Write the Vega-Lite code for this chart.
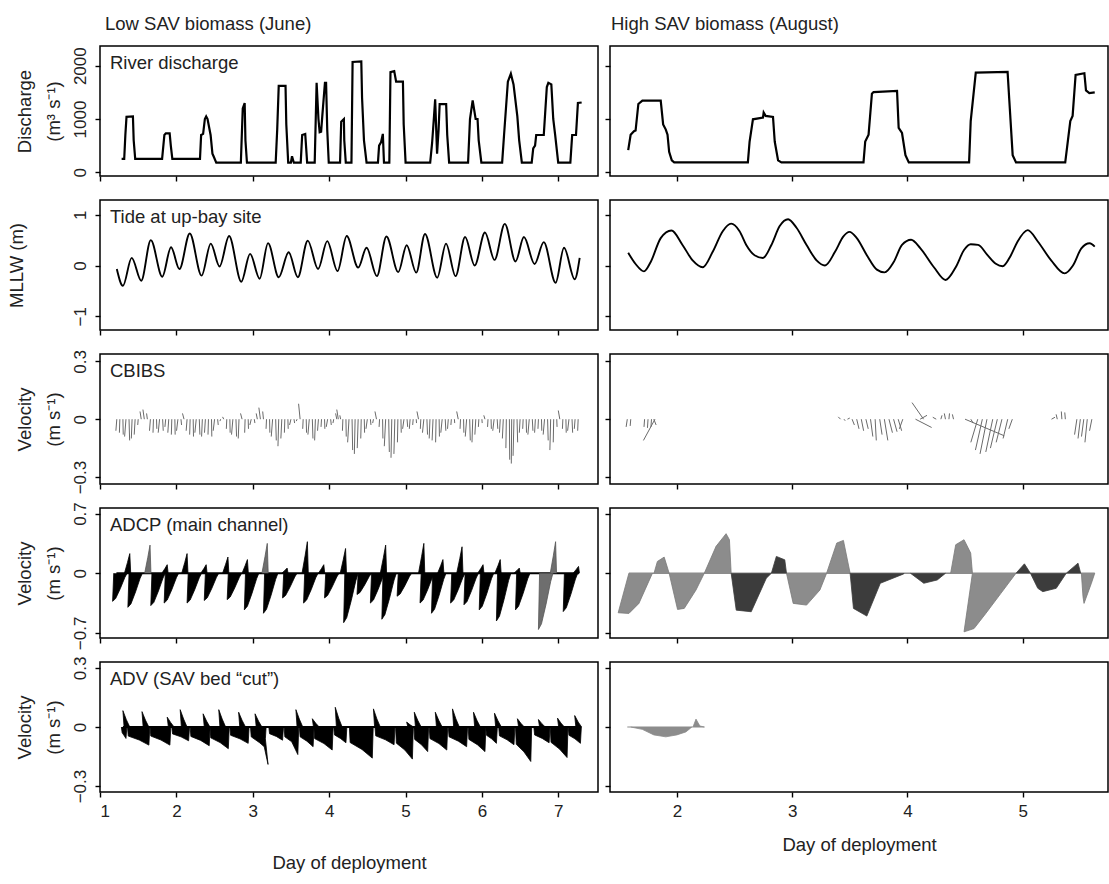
{
"$schema":"https://vega.github.io/schema/vega-lite/v6.json",
"background":"white",
"padding":{"left":6,"top":13,"right":2,"bottom":4},
"config":{
 "font":"Liberation Sans",
 "view":{"stroke":"#000","strokeWidth":1.5},
 "style":{"guide-title":{"lineHeight":29}},
 "axis":{"domain":false,"grid":false,"tickColor":"#000","tickSize":5,"tickWidth":1.4,"labelFont":"Liberation Sans","labelFontSize":17,"labelColor":"#222","titleFont":"Liberation Sans","titleFontSize":18.5,"titleFontWeight":"normal","titleColor":"#222"},
 "axisY":{"labelAngle":-90,"labelAlign":"center","labelBaseline":"bottom","labelPadding":6,"titlePadding":8,"titleLineHeight":29},
 "axisX":{"labelPadding":6},
 "title":{"font":"Liberation Sans","fontSize":18.5,"fontWeight":"normal","color":"#222","anchor":"start","frame":"group","offset":13},
 "text":{"font":"Liberation Sans","fontSize":18.5,"color":"#222","align":"left","baseline":"alphabetic"}
},
"datasets":{
"q1":[{"d":1.283,"v":250},{"d":1.317,"v":250},{"d":1.332,"v":700},{"d":1.347,"v":1040},{"d":1.431,"v":1050},{"d":1.441,"v":600},{"d":1.461,"v":250},{"d":1.813,"v":250},{"d":1.843,"v":700},{"d":1.862,"v":730},{"d":1.912,"v":730},{"d":1.927,"v":500},{"d":1.947,"v":250},{"d":2.309,"v":250},{"d":2.324,"v":700},{"d":2.35,"v":720},{"d":2.373,"v":1000},{"d":2.39,"v":1050},{"d":2.408,"v":1000},{"d":2.448,"v":700},{"d":2.472,"v":350},{"d":2.487,"v":300},{"d":2.522,"v":180},{"d":2.844,"v":180},{"d":2.869,"v":1200},{"d":2.894,"v":1300},{"d":2.904,"v":600},{"d":2.924,"v":180},{"d":3.3,"v":180},{"d":3.32,"v":800},{"d":3.34,"v":1620},{"d":3.429,"v":1620},{"d":3.439,"v":900},{"d":3.464,"v":180},{"d":3.499,"v":180},{"d":3.514,"v":300},{"d":3.538,"v":180},{"d":3.628,"v":180},{"d":3.647,"v":700},{"d":3.687,"v":720},{"d":3.712,"v":180},{"d":3.811,"v":180},{"d":3.836,"v":1680},{"d":3.86,"v":1000},{"d":3.876,"v":750},{"d":3.895,"v":760},{"d":3.91,"v":1050},{"d":3.945,"v":1680},{"d":3.96,"v":1680},{"d":3.975,"v":800},{"d":3.995,"v":180},{"d":4.143,"v":180},{"d":4.158,"v":950},{"d":4.193,"v":1000},{"d":4.198,"v":600},{"d":4.218,"v":180},{"d":4.292,"v":180},{"d":4.307,"v":2070},{"d":4.421,"v":2080},{"d":4.431,"v":1400},{"d":4.456,"v":600},{"d":4.49,"v":180},{"d":4.639,"v":180},{"d":4.654,"v":500},{"d":4.679,"v":560},{"d":4.703,"v":720},{"d":4.718,"v":180},{"d":4.788,"v":180},{"d":4.803,"v":1880},{"d":4.852,"v":1900},{"d":4.877,"v":1700},{"d":4.966,"v":1700},{"d":4.976,"v":900},{"d":5.001,"v":180},{"d":5.323,"v":180},{"d":5.348,"v":550},{"d":5.373,"v":1050},{"d":5.388,"v":1370},{"d":5.413,"v":350},{"d":5.433,"v":800},{"d":5.447,"v":1280},{"d":5.532,"v":1280},{"d":5.546,"v":700},{"d":5.571,"v":180},{"d":5.819,"v":180},{"d":5.844,"v":1000},{"d":5.879,"v":1350},{"d":5.918,"v":1000},{"d":5.943,"v":1000},{"d":5.958,"v":600},{"d":5.993,"v":180},{"d":6.265,"v":180},{"d":6.29,"v":700},{"d":6.34,"v":1700},{"d":6.379,"v":1850},{"d":6.414,"v":1650},{"d":6.464,"v":1050},{"d":6.488,"v":600},{"d":6.523,"v":180},{"d":6.652,"v":180},{"d":6.672,"v":450},{"d":6.696,"v":500},{"d":6.711,"v":700},{"d":6.81,"v":700},{"d":6.85,"v":1600},{"d":6.87,"v":1680},{"d":6.909,"v":1650},{"d":6.934,"v":1000},{"d":6.959,"v":700},{"d":6.999,"v":180},{"d":7.158,"v":180},{"d":7.182,"v":700},{"d":7.232,"v":700},{"d":7.257,"v":1300},{"d":7.306,"v":1310}],
"q2":[{"d":1.578,"v":417},{"d":1.599,"v":705},{"d":1.628,"v":769},{"d":1.642,"v":782},{"d":1.666,"v":1282},{"d":1.701,"v":1346},{"d":1.86,"v":1346},{"d":1.881,"v":897},{"d":1.904,"v":801},{"d":1.919,"v":705},{"d":1.933,"v":385},{"d":1.956,"v":224},{"d":1.977,"v":186},{"d":2.616,"v":186},{"d":2.631,"v":577},{"d":2.66,"v":994},{"d":2.747,"v":1026},{"d":2.753,"v":1122},{"d":2.77,"v":1058},{"d":2.834,"v":1038},{"d":2.849,"v":577},{"d":2.878,"v":224},{"d":2.907,"v":186},{"d":3.619,"v":186},{"d":3.634,"v":577},{"d":3.663,"v":705},{"d":3.692,"v":1474},{"d":3.706,"v":1506},{"d":3.91,"v":1526},{"d":3.924,"v":833},{"d":3.953,"v":737},{"d":3.983,"v":321},{"d":4.012,"v":186},{"d":4.535,"v":186},{"d":4.549,"v":962},{"d":4.593,"v":1872},{"d":4.869,"v":1885},{"d":4.884,"v":1346},{"d":4.913,"v":321},{"d":4.942,"v":186},{"d":5.369,"v":186},{"d":5.413,"v":962},{"d":5.433,"v":1058},{"d":5.459,"v":1827},{"d":5.535,"v":1859},{"d":5.549,"v":1538},{"d":5.578,"v":1487},{"d":5.625,"v":1500}],
"t1":[{"d":1.22,"v":-0.07},{"d":1.3,"v":-0.4},{"d":1.415,"v":0.15},{"d":1.54,"v":-0.3},{"d":1.665,"v":0.5},{"d":1.815,"v":-0.22},{"d":1.93,"v":0.36},{"d":2.04,"v":-0.07},{"d":2.175,"v":0.63},{"d":2.33,"v":-0.2},{"d":2.45,"v":0.43},{"d":2.565,"v":-0.02},{"d":2.69,"v":0.58},{"d":2.85,"v":-0.32},{"d":2.965,"v":0.23},{"d":3.09,"v":-0.26},{"d":3.2,"v":0.44},{"d":3.34,"v":-0.23},{"d":3.47,"v":0.26},{"d":3.59,"v":-0.23},{"d":3.72,"v":0.49},{"d":3.855,"v":-0.07},{"d":3.975,"v":0.48},{"d":4.11,"v":-0.11},{"d":4.23,"v":0.58},{"d":4.38,"v":-0.04},{"d":4.49,"v":0.35},{"d":4.625,"v":-0.21},{"d":4.75,"v":0.57},{"d":4.905,"v":-0.13},{"d":5.015,"v":0.4},{"d":5.14,"v":-0.14},{"d":5.255,"v":0.62},{"d":5.415,"v":-0.24},{"d":5.53,"v":0.43},{"d":5.655,"v":-0.21},{"d":5.78,"v":0.56},{"d":5.905,"v":0.0},{"d":6.04,"v":0.65},{"d":6.165,"v":0.11},{"d":6.3,"v":0.82},{"d":6.44,"v":0.08},{"d":6.55,"v":0.56},{"d":6.69,"v":0.03},{"d":6.81,"v":0.46},{"d":6.965,"v":-0.34},{"d":7.075,"v":0.35},{"d":7.215,"v":-0.27},{"d":7.28,"v":0.15}],
"t2":[{"d":1.578,"v":0.25},{"d":1.642,"v":0.03},{"d":1.715,"v":-0.115},{"d":1.773,"v":0.07},{"d":1.86,"v":0.54},{"d":1.953,"v":0.69},{"d":2.049,"v":0.405},{"d":2.137,"v":0.1},{"d":2.224,"v":-0.034},{"d":2.311,"v":0.27},{"d":2.398,"v":0.676},{"d":2.471,"v":0.824},{"d":2.544,"v":0.676},{"d":2.602,"v":0.405},{"d":2.674,"v":0.203},{"d":2.747,"v":0.149},{"d":2.82,"v":0.405},{"d":2.892,"v":0.777},{"d":2.965,"v":0.912},{"d":3.038,"v":0.743},{"d":3.125,"v":0.405},{"d":3.212,"v":0.101},{"d":3.285,"v":0.0},{"d":3.372,"v":0.27},{"d":3.445,"v":0.574},{"d":3.497,"v":0.662},{"d":3.561,"v":0.54},{"d":3.648,"v":0.203},{"d":3.735,"v":-0.081},{"d":3.802,"v":-0.135},{"d":3.881,"v":0.068},{"d":3.953,"v":0.405},{"d":4.032,"v":0.507},{"d":4.113,"v":0.338},{"d":4.23,"v":-0.034},{"d":4.331,"v":-0.284},{"d":4.419,"v":-0.034},{"d":4.491,"v":0.304},{"d":4.549,"v":0.419},{"d":4.613,"v":0.405},{"d":4.695,"v":0.203},{"d":4.767,"v":0.034},{"d":4.826,"v":-0.014},{"d":4.898,"v":0.203},{"d":4.956,"v":0.473},{"d":5.044,"v":0.696},{"d":5.131,"v":0.473},{"d":5.247,"v":0.101},{"d":5.363,"v":-0.155},{"d":5.436,"v":0.0},{"d":5.509,"v":0.338},{"d":5.581,"v":0.439},{"d":5.625,"v":0.372}],
"c1":[{"d":1.22,"e":1.208,"v":-0.06},{"d":1.26,"e":1.254,"v":-0.07},{"d":1.3,"e":1.304,"v":-0.08},{"d":1.34,"e":1.322,"v":-0.09},{"d":1.38,"e":1.388,"v":-0.11},{"d":1.42,"e":1.41,"v":-0.1},{"d":1.46,"e":1.448,"v":-0.08},{"d":1.5,"e":1.494,"v":-0.03},{"d":1.54,"e":1.524,"v":0.04},{"d":1.58,"e":1.562,"v":0.05},{"d":1.62,"e":1.61,"v":0.03},{"d":1.66,"e":1.648,"v":-0.06},{"d":1.7,"e":1.694,"v":-0.07},{"d":1.74,"e":1.744,"v":-0.05},{"d":1.78,"e":1.762,"v":-0.07},{"d":1.82,"e":1.828,"v":-0.06},{"d":1.86,"e":1.85,"v":-0.04},{"d":1.9,"e":1.888,"v":-0.07},{"d":1.94,"e":1.934,"v":-0.08},{"d":1.98,"e":1.984,"v":-0.08},{"d":2.02,"e":2.002,"v":-0.06},{"d":2.06,"e":2.068,"v":-0.03},{"d":2.1,"e":2.08,"v":0.03},{"d":2.14,"e":2.128,"v":-0.06},{"d":2.18,"e":2.174,"v":-0.08},{"d":2.22,"e":2.224,"v":-0.09},{"d":2.26,"e":2.242,"v":-0.07},{"d":2.3,"e":2.308,"v":-0.08},{"d":2.34,"e":2.33,"v":-0.09},{"d":2.38,"e":2.368,"v":-0.07},{"d":2.42,"e":2.414,"v":-0.08},{"d":2.46,"e":2.464,"v":-0.09},{"d":2.5,"e":2.482,"v":-0.06},{"d":2.54,"e":2.548,"v":-0.03},{"d":2.58,"e":2.57,"v":-0.01},{"d":2.62,"e":2.605,"v":0.012},{"d":2.66,"e":2.654,"v":-0.05},{"d":2.7,"e":2.704,"v":-0.07},{"d":2.74,"e":2.722,"v":-0.08},{"d":2.78,"e":2.788,"v":-0.09},{"d":2.82,"e":2.81,"v":-0.1},{"d":2.86,"e":2.84,"v":0.03},{"d":2.9,"e":2.894,"v":-0.07},{"d":2.94,"e":2.944,"v":-0.05},{"d":2.98,"e":2.962,"v":-0.03},{"d":3.02,"e":3.028,"v":-0.02},{"d":3.06,"e":3.045,"v":0.03},{"d":3.1,"e":3.08,"v":0.06},{"d":3.14,"e":3.13,"v":0.04},{"d":3.18,"e":3.174,"v":-0.05},{"d":3.22,"e":3.224,"v":-0.07},{"d":3.26,"e":3.242,"v":-0.09},{"d":3.3,"e":3.308,"v":-0.11},{"d":3.34,"e":3.33,"v":-0.14},{"d":3.38,"e":3.368,"v":-0.1},{"d":3.42,"e":3.414,"v":-0.07},{"d":3.46,"e":3.464,"v":-0.05},{"d":3.5,"e":3.482,"v":-0.03},{"d":3.54,"e":3.548,"v":-0.02},{"d":3.58,"e":3.57,"v":-0.01},{"d":3.62,"e":3.6,"v":0.08},{"d":3.66,"e":3.654,"v":-0.05},{"d":3.7,"e":3.704,"v":-0.07},{"d":3.74,"e":3.722,"v":-0.08},{"d":3.78,"e":3.788,"v":-0.1},{"d":3.82,"e":3.81,"v":-0.11},{"d":3.86,"e":3.848,"v":-0.06},{"d":3.9,"e":3.894,"v":-0.04},{"d":3.94,"e":3.944,"v":-0.05},{"d":3.98,"e":3.962,"v":-0.04},{"d":4.02,"e":4.028,"v":-0.03},{"d":4.06,"e":4.05,"v":-0.02},{"d":4.1,"e":4.085,"v":0.03},{"d":4.12,"e":4.1,"v":0.05},{"d":4.15,"e":4.14,"v":0.02},{"d":4.18,"e":4.174,"v":-0.06},{"d":4.22,"e":4.224,"v":-0.09},{"d":4.26,"e":4.242,"v":-0.12},{"d":4.3,"e":4.308,"v":-0.16},{"d":4.34,"e":4.33,"v":-0.18},{"d":4.38,"e":4.368,"v":-0.15},{"d":4.42,"e":4.414,"v":-0.1},{"d":4.46,"e":4.464,"v":-0.07},{"d":4.5,"e":4.482,"v":-0.05},{"d":4.54,"e":4.548,"v":-0.03},{"d":4.58,"e":4.57,"v":-0.02},{"d":4.62,"e":4.6,"v":0.04},{"d":4.66,"e":4.654,"v":-0.04},{"d":4.7,"e":4.704,"v":-0.1},{"d":4.74,"e":4.722,"v":-0.14},{"d":4.78,"e":4.788,"v":-0.17},{"d":4.82,"e":4.81,"v":-0.2},{"d":4.86,"e":4.848,"v":-0.18},{"d":4.9,"e":4.894,"v":-0.12},{"d":4.94,"e":4.944,"v":-0.07},{"d":4.98,"e":4.962,"v":-0.05},{"d":5.02,"e":5.028,"v":-0.04},{"d":5.06,"e":5.05,"v":-0.05},{"d":5.1,"e":5.094,"v":-0.03},{"d":5.14,"e":5.144,"v":-0.02},{"d":5.17,"e":5.15,"v":0.04},{"d":5.2,"e":5.194,"v":-0.05},{"d":5.24,"e":5.222,"v":-0.07},{"d":5.28,"e":5.288,"v":-0.08},{"d":5.32,"e":5.31,"v":-0.1},{"d":5.36,"e":5.348,"v":-0.11},{"d":5.4,"e":5.394,"v":-0.12},{"d":5.44,"e":5.444,"v":-0.09},{"d":5.48,"e":5.462,"v":-0.07},{"d":5.52,"e":5.528,"v":-0.06},{"d":5.56,"e":5.55,"v":-0.05},{"d":5.6,"e":5.594,"v":-0.03},{"d":5.64,"e":5.644,"v":-0.02},{"d":5.69,"e":5.67,"v":0.04},{"d":5.72,"e":5.714,"v":-0.05},{"d":5.76,"e":5.764,"v":-0.07},{"d":5.8,"e":5.782,"v":-0.09},{"d":5.84,"e":5.848,"v":-0.11},{"d":5.88,"e":5.87,"v":-0.12},{"d":5.92,"e":5.908,"v":-0.08},{"d":5.96,"e":5.954,"v":-0.04},{"d":6.0,"e":6.004,"v":-0.02},{"d":6.04,"e":6.025,"v":0.02},{"d":6.08,"e":6.074,"v":-0.04},{"d":6.12,"e":6.124,"v":-0.05},{"d":6.16,"e":6.142,"v":-0.06},{"d":6.2,"e":6.208,"v":-0.05},{"d":6.24,"e":6.23,"v":-0.07},{"d":6.28,"e":6.268,"v":-0.1},{"d":6.32,"e":6.314,"v":-0.15},{"d":6.36,"e":6.364,"v":-0.21},{"d":6.39,"e":6.385,"v":-0.23},{"d":6.42,"e":6.408,"v":-0.19},{"d":6.46,"e":6.468,"v":-0.12},{"d":6.5,"e":6.49,"v":-0.07},{"d":6.54,"e":6.534,"v":-0.05},{"d":6.58,"e":6.584,"v":-0.07},{"d":6.62,"e":6.602,"v":-0.08},{"d":6.66,"e":6.668,"v":-0.06},{"d":6.7,"e":6.69,"v":-0.07},{"d":6.74,"e":6.734,"v":-0.05},{"d":6.78,"e":6.784,"v":-0.06},{"d":6.82,"e":6.802,"v":-0.08},{"d":6.86,"e":6.868,"v":-0.11},{"d":6.9,"e":6.89,"v":-0.16},{"d":6.94,"e":6.934,"v":-0.12},{"d":6.98,"e":6.984,"v":-0.04},{"d":7.02,"e":7.0,"v":0.045},{"d":7.06,"e":7.054,"v":-0.05},{"d":7.1,"e":7.104,"v":-0.07},{"d":7.14,"e":7.122,"v":-0.06},{"d":7.18,"e":7.188,"v":-0.07},{"d":7.22,"e":7.21,"v":-0.05},{"d":7.26,"e":7.254,"v":-0.06}],
"c2":[{"d":1.57,"e":1.56,"v":-0.04},{"d":1.6,"e":1.595,"v":-0.035},{"d":1.72,"e":1.715,"v":-0.04},{"d":1.75,"e":1.745,"v":-0.045},{"d":1.78,"e":1.775,"v":-0.04},{"d":1.81,"e":1.71,"v":-0.11},{"d":1.8,"e":1.82,"v":-0.03},{"d":3.42,"e":3.4,"v":0.012},{"d":3.45,"e":3.46,"v":-0.008},{"d":3.48,"e":3.5,"v":0.006},{"d":3.52,"e":3.54,"v":-0.03},{"d":3.56,"e":3.58,"v":-0.05},{"d":3.6,"e":3.62,"v":-0.06},{"d":3.64,"e":3.66,"v":-0.05},{"d":3.68,"e":3.7,"v":-0.09},{"d":3.72,"e":3.73,"v":-0.11},{"d":3.76,"e":3.78,"v":-0.08},{"d":3.8,"e":3.83,"v":-0.11},{"d":3.84,"e":3.87,"v":-0.07},{"d":3.88,"e":3.91,"v":-0.065},{"d":3.92,"e":3.95,"v":-0.06},{"d":3.96,"e":3.93,"v":-0.05},{"d":4.14,"e":4.04,"v":0.086},{"d":4.07,"e":4.21,"v":-0.043},{"d":4.11,"e":4.17,"v":0.02},{"d":4.25,"e":4.22,"v":0.01},{"d":4.29,"e":4.3,"v":0.02},{"d":4.33,"e":4.32,"v":0.03},{"d":4.36,"e":4.365,"v":0.03},{"d":4.4,"e":4.39,"v":0.025},{"d":4.5,"e":4.84,"v":-0.086},{"d":4.55,"e":4.57,"v":-0.02},{"d":4.61,"e":4.55,"v":-0.12},{"d":4.65,"e":4.59,"v":-0.16},{"d":4.69,"e":4.63,"v":-0.18},{"d":4.74,"e":4.68,"v":-0.17},{"d":4.78,"e":4.72,"v":-0.15},{"d":4.82,"e":4.77,"v":-0.12},{"d":4.87,"e":4.83,"v":-0.1},{"d":4.91,"e":4.88,"v":-0.05},{"d":5.25,"e":5.28,"v":0.01},{"d":5.3,"e":5.29,"v":0.025},{"d":5.34,"e":5.335,"v":0.04},{"d":5.37,"e":5.365,"v":0.035},{"d":5.47,"e":5.45,"v":-0.08},{"d":5.5,"e":5.48,"v":-0.1},{"d":5.53,"e":5.51,"v":-0.09},{"d":5.56,"e":5.54,"v":-0.12},{"d":5.6,"e":5.58,"v":-0.06}],
"a1":[
{"g":1,"d":1.18,"v":0},{"g":1,"d":1.165,"v":-0.33},{"g":1,"d":1.205,"v":-0.297},{"g":1,"d":1.265,"v":-0.182},{"g":1,"d":1.325,"v":-0.05},{"g":1,"d":1.355,"v":0},
{"g":2,"d":1.38,"v":0},{"g":2,"d":1.365,"v":-0.4},{"g":2,"d":1.405,"v":-0.36},{"g":2,"d":1.465,"v":-0.22},{"g":2,"d":1.525,"v":-0.06},{"g":2,"d":1.555,"v":0},
{"g":3,"d":1.68,"v":0},{"g":3,"d":1.665,"v":-0.38},{"g":3,"d":1.705,"v":-0.342},{"g":3,"d":1.765,"v":-0.209},{"g":3,"d":1.825,"v":-0.057},{"g":3,"d":1.855,"v":0},
{"g":4,"d":1.855,"v":0},{"g":4,"d":1.84,"v":-0.35},{"g":4,"d":1.88,"v":-0.315},{"g":4,"d":1.94,"v":-0.193},{"g":4,"d":2.0,"v":-0.053},{"g":4,"d":2.03,"v":0},
{"g":5,"d":2.155,"v":0},{"g":5,"d":2.14,"v":-0.35},{"g":5,"d":2.18,"v":-0.315},{"g":5,"d":2.24,"v":-0.193},{"g":5,"d":2.3,"v":-0.053},{"g":5,"d":2.33,"v":0},
{"g":6,"d":2.38,"v":0},{"g":6,"d":2.365,"v":-0.32},{"g":6,"d":2.405,"v":-0.288},{"g":6,"d":2.465,"v":-0.176},{"g":6,"d":2.525,"v":-0.048},{"g":6,"d":2.555,"v":0},
{"g":7,"d":2.68,"v":0},{"g":7,"d":2.665,"v":-0.31},{"g":7,"d":2.705,"v":-0.279},{"g":7,"d":2.765,"v":-0.171},{"g":7,"d":2.825,"v":-0.047},{"g":7,"d":2.855,"v":0},
{"g":8,"d":2.905,"v":0},{"g":8,"d":2.89,"v":-0.43},{"g":8,"d":2.93,"v":-0.387},{"g":8,"d":2.99,"v":-0.237},{"g":8,"d":3.05,"v":-0.065},{"g":8,"d":3.08,"v":0},
{"g":9,"d":3.155,"v":0},{"g":9,"d":3.14,"v":-0.47},{"g":9,"d":3.18,"v":-0.423},{"g":9,"d":3.24,"v":-0.259},{"g":9,"d":3.3,"v":-0.071},{"g":9,"d":3.33,"v":0},
{"g":10,"d":3.405,"v":0},{"g":10,"d":3.39,"v":-0.29},{"g":10,"d":3.43,"v":-0.261},{"g":10,"d":3.49,"v":-0.16},{"g":10,"d":3.55,"v":-0.044},{"g":10,"d":3.58,"v":0},
{"g":11,"d":3.68,"v":0},{"g":11,"d":3.665,"v":-0.35},{"g":11,"d":3.705,"v":-0.315},{"g":11,"d":3.765,"v":-0.193},{"g":11,"d":3.825,"v":-0.053},{"g":11,"d":3.855,"v":0},
{"g":12,"d":3.955,"v":0},{"g":12,"d":3.94,"v":-0.29},{"g":12,"d":3.98,"v":-0.261},{"g":12,"d":4.04,"v":-0.16},{"g":12,"d":4.1,"v":-0.044},{"g":12,"d":4.13,"v":0},
{"g":13,"d":4.205,"v":0},{"g":13,"d":4.19,"v":-0.58},{"g":13,"d":4.23,"v":-0.522},{"g":13,"d":4.29,"v":-0.319},{"g":13,"d":4.35,"v":-0.087},{"g":13,"d":4.38,"v":0},
{"g":14,"d":4.38,"v":0},{"g":14,"d":4.365,"v":-0.25},{"g":14,"d":4.405,"v":-0.225},{"g":14,"d":4.465,"v":-0.138},{"g":14,"d":4.525,"v":-0.038},{"g":14,"d":4.555,"v":0},
{"g":15,"d":4.555,"v":0},{"g":15,"d":4.54,"v":-0.35},{"g":15,"d":4.58,"v":-0.315},{"g":15,"d":4.64,"v":-0.193},{"g":15,"d":4.7,"v":-0.053},{"g":15,"d":4.73,"v":0},
{"g":16,"d":4.705,"v":0},{"g":16,"d":4.69,"v":-0.54},{"g":16,"d":4.73,"v":-0.486},{"g":16,"d":4.79,"v":-0.297},{"g":16,"d":4.85,"v":-0.081},{"g":16,"d":4.88,"v":0},
{"g":17,"d":4.905,"v":0},{"g":17,"d":4.89,"v":-0.27},{"g":17,"d":4.93,"v":-0.243},{"g":17,"d":4.99,"v":-0.149},{"g":17,"d":5.05,"v":-0.041},{"g":17,"d":5.08,"v":0},
{"g":18,"d":5.205,"v":0},{"g":18,"d":5.19,"v":-0.35},{"g":18,"d":5.23,"v":-0.315},{"g":18,"d":5.29,"v":-0.193},{"g":18,"d":5.35,"v":-0.053},{"g":18,"d":5.38,"v":0},
{"g":19,"d":5.355,"v":0},{"g":19,"d":5.34,"v":-0.47},{"g":19,"d":5.38,"v":-0.423},{"g":19,"d":5.44,"v":-0.259},{"g":19,"d":5.5,"v":-0.071},{"g":19,"d":5.53,"v":0},
{"g":20,"d":5.605,"v":0},{"g":20,"d":5.59,"v":-0.35},{"g":20,"d":5.63,"v":-0.315},{"g":20,"d":5.69,"v":-0.193},{"g":20,"d":5.75,"v":-0.053},{"g":20,"d":5.78,"v":0},
{"g":21,"d":5.78,"v":0},{"g":21,"d":5.765,"v":-0.37},{"g":21,"d":5.805,"v":-0.333},{"g":21,"d":5.865,"v":-0.204},{"g":21,"d":5.925,"v":-0.056},{"g":21,"d":5.955,"v":0},
{"g":22,"d":5.98,"v":0},{"g":22,"d":5.965,"v":-0.43},{"g":22,"d":6.005,"v":-0.387},{"g":22,"d":6.065,"v":-0.237},{"g":22,"d":6.125,"v":-0.065},{"g":22,"d":6.155,"v":0},
{"g":23,"d":6.205,"v":0},{"g":23,"d":6.19,"v":-0.56},{"g":23,"d":6.23,"v":-0.504},{"g":23,"d":6.29,"v":-0.308},{"g":23,"d":6.35,"v":-0.084},{"g":23,"d":6.38,"v":0},
{"g":24,"d":6.455,"v":0},{"g":24,"d":6.44,"v":-0.43},{"g":24,"d":6.48,"v":-0.387},{"g":24,"d":6.54,"v":-0.237},{"g":24,"d":6.6,"v":-0.065},{"g":24,"d":6.63,"v":0},
{"g":26,"d":7.08,"v":0},{"g":26,"d":7.065,"v":-0.45},{"g":26,"d":7.105,"v":-0.405},{"g":26,"d":7.165,"v":-0.248},{"g":26,"d":7.225,"v":-0.068},{"g":26,"d":7.255,"v":0},
{"g":31,"d":1.32,"v":0},{"g":31,"d":1.36,"v":0.127},{"g":31,"d":1.39,"v":0.23},{"g":31,"d":1.402,"v":0},
{"g":33,"d":1.81,"v":0},{"g":33,"d":1.85,"v":0.055},{"g":33,"d":1.88,"v":0.1},{"g":33,"d":1.892,"v":0},
{"g":34,"d":2.07,"v":0},{"g":34,"d":2.11,"v":0.127},{"g":34,"d":2.14,"v":0.23},{"g":34,"d":2.152,"v":0},
{"g":35,"d":2.32,"v":0},{"g":35,"d":2.36,"v":0.055},{"g":35,"d":2.39,"v":0.1},{"g":35,"d":2.402,"v":0},
{"g":36,"d":2.605,"v":0},{"g":36,"d":2.645,"v":0.105},{"g":36,"d":2.675,"v":0.19},{"g":36,"d":2.687,"v":0},
{"g":37,"d":2.86,"v":0},{"g":37,"d":2.9,"v":0.088},{"g":37,"d":2.93,"v":0.16},{"g":37,"d":2.942,"v":0},
{"g":39,"d":3.38,"v":0},{"g":39,"d":3.42,"v":0.033},{"g":39,"d":3.45,"v":0.06},{"g":39,"d":3.462,"v":0},
{"g":40,"d":3.645,"v":0},{"g":40,"d":3.685,"v":0.204},{"g":40,"d":3.715,"v":0.37},{"g":40,"d":3.727,"v":0},
{"g":41,"d":3.86,"v":0},{"g":41,"d":3.9,"v":0.055},{"g":41,"d":3.93,"v":0.1},{"g":41,"d":3.942,"v":0},
{"g":42,"d":4.145,"v":0},{"g":42,"d":4.185,"v":0.16},{"g":42,"d":4.215,"v":0.29},{"g":42,"d":4.227,"v":0},
{"g":43,"d":4.67,"v":0},{"g":43,"d":4.71,"v":0.182},{"g":43,"d":4.74,"v":0.33},{"g":43,"d":4.752,"v":0},
{"g":44,"d":5.17,"v":0},{"g":44,"d":5.21,"v":0.193},{"g":44,"d":5.24,"v":0.35},{"g":44,"d":5.252,"v":0},
{"g":45,"d":5.42,"v":0},{"g":45,"d":5.46,"v":0.088},{"g":45,"d":5.49,"v":0.16},{"g":45,"d":5.502,"v":0},
{"g":46,"d":5.67,"v":0},{"g":46,"d":5.71,"v":0.171},{"g":46,"d":5.74,"v":0.31},{"g":46,"d":5.752,"v":0},
{"g":47,"d":5.945,"v":0},{"g":47,"d":5.985,"v":0.055},{"g":47,"d":6.015,"v":0.1},{"g":47,"d":6.027,"v":0},
{"g":48,"d":6.17,"v":0},{"g":48,"d":6.21,"v":0.088},{"g":48,"d":6.24,"v":0.16},{"g":48,"d":6.252,"v":0},
{"g":49,"d":6.42,"v":0},{"g":49,"d":6.46,"v":0.033},{"g":49,"d":6.49,"v":0.06},{"g":49,"d":6.502,"v":0},
{"g":51,"d":7.195,"v":0},{"g":51,"d":7.235,"v":0.044},{"g":51,"d":7.265,"v":0.08},{"g":51,"d":7.277,"v":0}],
"a1g":[
{"g":25,"d":6.755,"v":0},{"g":25,"d":6.74,"v":-0.66},{"g":25,"d":6.78,"v":-0.594},{"g":25,"d":6.84,"v":-0.363},{"g":25,"d":6.9,"v":-0.099},{"g":25,"d":6.93,"v":0},
{"g":32,"d":1.585,"v":0},{"g":32,"d":1.625,"v":0.182},{"g":32,"d":1.655,"v":0.33},{"g":32,"d":1.667,"v":0},
{"g":38,"d":3.12,"v":0},{"g":38,"d":3.16,"v":0.193},{"g":38,"d":3.19,"v":0.35},{"g":38,"d":3.202,"v":0},
{"g":50,"d":6.895,"v":0},{"g":50,"d":6.935,"v":0.204},{"g":50,"d":6.965,"v":0.37},{"g":50,"d":6.977,"v":0}],
"a2l":[
{"g":1,"d":1.584,"v":0},{"g":1,"d":1.491,"v":-0.464},{"g":1,"d":1.584,"v":-0.472},{"g":1,"d":1.671,"v":-0.354},{"g":1,"d":1.788,"v":0},
{"g":2,"d":1.802,"v":0},{"g":2,"d":1.831,"v":0.138},{"g":2,"d":1.89,"v":0.189},{"g":2,"d":1.933,"v":0},
{"g":3,"d":1.933,"v":0},{"g":3,"d":2.006,"v":-0.425},{"g":3,"d":2.064,"v":-0.413},{"g":3,"d":2.166,"v":-0.197},{"g":3,"d":2.238,"v":0},
{"g":4,"d":2.238,"v":0},{"g":4,"d":2.34,"v":0.315},{"g":4,"d":2.427,"v":0.464},{"g":4,"d":2.456,"v":0.393},{"g":4,"d":2.471,"v":0},
{"g":5,"d":2.951,"v":0},{"g":5,"d":3.009,"v":-0.354},{"g":5,"d":3.125,"v":-0.374},{"g":5,"d":3.241,"v":-0.197},{"g":5,"d":3.299,"v":0},
{"g":6,"d":3.299,"v":0},{"g":6,"d":3.387,"v":0.354},{"g":6,"d":3.445,"v":0.385},{"g":6,"d":3.503,"v":0},
{"g":7,"d":4.375,"v":0},{"g":7,"d":4.419,"v":0.334},{"g":7,"d":4.491,"v":0.393},{"g":7,"d":4.549,"v":0.236},{"g":7,"d":4.564,"v":0},
{"g":8,"d":4.564,"v":0},{"g":8,"d":4.491,"v":-0.688},{"g":8,"d":4.578,"v":-0.649},{"g":8,"d":4.68,"v":-0.472},{"g":8,"d":4.811,"v":-0.236},{"g":8,"d":4.942,"v":0},
{"g":9,"d":5.509,"v":0},{"g":9,"d":5.523,"v":-0.275},{"g":9,"d":5.532,"v":-0.354},{"g":9,"d":5.596,"v":-0.118},{"g":9,"d":5.625,"v":0}],
"a2d":[
{"g":1,"d":2.471,"v":0},{"g":1,"d":2.515,"v":-0.433},{"g":1,"d":2.645,"v":-0.452},{"g":1,"d":2.776,"v":-0.059},{"g":1,"d":2.82,"v":0},
{"g":2,"d":2.82,"v":0},{"g":2,"d":2.863,"v":0.197},{"g":2,"d":2.936,"v":0.157},{"g":2,"d":2.951,"v":0},
{"g":3,"d":3.503,"v":0},{"g":3,"d":3.532,"v":-0.413},{"g":3,"d":3.648,"v":-0.503},{"g":3,"d":3.765,"v":-0.118},{"g":3,"d":3.968,"v":-0.008},{"g":3,"d":3.97,"v":0},
{"g":4,"d":4.026,"v":0},{"g":4,"d":4.142,"v":-0.118},{"g":4,"d":4.259,"v":-0.079},{"g":4,"d":4.331,"v":0},
{"g":5,"d":4.942,"v":0},{"g":5,"d":5.015,"v":0.11},{"g":5,"d":5.067,"v":0},
{"g":6,"d":5.067,"v":0},{"g":6,"d":5.131,"v":-0.177},{"g":6,"d":5.174,"v":-0.216},{"g":6,"d":5.291,"v":-0.177},{"g":6,"d":5.378,"v":0},
{"g":7,"d":5.378,"v":0},{"g":7,"d":5.48,"v":0.118},{"g":7,"d":5.503,"v":0}],
"v1":[
{"g":1,"d":1.28,"v":0},{"g":1,"d":1.29,"v":-0.029},{"g":1,"d":1.313,"v":-0.042},{"g":1,"d":1.34,"v":-0.058},{"g":1,"d":1.352,"v":0},
{"g":2,"d":1.36,"v":0},{"g":2,"d":1.37,"v":-0.046},{"g":2,"d":1.514,"v":-0.066},{"g":2,"d":1.64,"v":-0.092},{"g":2,"d":1.652,"v":0},
{"g":3,"d":1.655,"v":0},{"g":3,"d":1.665,"v":-0.046},{"g":3,"d":1.798,"v":-0.066},{"g":3,"d":1.915,"v":-0.092},{"g":3,"d":1.927,"v":0},
{"g":4,"d":1.94,"v":0},{"g":4,"d":1.95,"v":-0.035},{"g":4,"d":2.061,"v":-0.05},{"g":4,"d":2.16,"v":-0.07},{"g":4,"d":2.172,"v":0},
{"g":5,"d":2.18,"v":0},{"g":5,"d":2.19,"v":-0.048},{"g":5,"d":2.318,"v":-0.068},{"g":5,"d":2.43,"v":-0.095},{"g":5,"d":2.442,"v":0},
{"g":6,"d":2.44,"v":0},{"g":6,"d":2.45,"v":-0.055},{"g":6,"d":2.572,"v":-0.079},{"g":6,"d":2.68,"v":-0.11},{"g":6,"d":2.692,"v":0},
{"g":7,"d":2.7,"v":0},{"g":7,"d":2.71,"v":-0.042},{"g":7,"d":2.832,"v":-0.06},{"g":7,"d":2.94,"v":-0.083},{"g":7,"d":2.952,"v":0},
{"g":8,"d":2.97,"v":0},{"g":8,"d":2.98,"v":-0.05},{"g":8,"d":3.09,"v":-0.08},{"g":8,"d":3.15,"v":-0.1},{"g":8,"d":3.2,"v":-0.19},{"g":8,"d":3.165,"v":-0.06},{"g":8,"d":3.175,"v":0},
{"g":9,"d":3.21,"v":0},{"g":9,"d":3.22,"v":-0.034},{"g":9,"d":3.309,"v":-0.048},{"g":9,"d":3.39,"v":-0.067},{"g":9,"d":3.402,"v":0},
{"g":10,"d":3.41,"v":0},{"g":10,"d":3.42,"v":-0.05},{"g":10,"d":3.51,"v":-0.075},{"g":10,"d":3.59,"v":-0.14},{"g":10,"d":3.602,"v":0},
{"g":11,"d":3.61,"v":0},{"g":11,"d":3.62,"v":-0.05},{"g":11,"d":3.709,"v":-0.072},{"g":11,"d":3.79,"v":-0.1},{"g":11,"d":3.802,"v":0},
{"g":12,"d":3.8,"v":0},{"g":12,"d":3.81,"v":-0.059},{"g":12,"d":3.932,"v":-0.084},{"g":12,"d":4.04,"v":-0.117},{"g":12,"d":4.052,"v":0},
{"g":13,"d":4.06,"v":0},{"g":13,"d":4.07,"v":-0.04},{"g":13,"d":4.148,"v":-0.058},{"g":13,"d":4.22,"v":-0.08},{"g":13,"d":4.232,"v":0},
{"g":14,"d":4.265,"v":0},{"g":14,"d":4.275,"v":-0.079},{"g":14,"d":4.43,"v":-0.114},{"g":14,"d":4.565,"v":-0.158},{"g":14,"d":4.577,"v":0},
{"g":15,"d":4.6,"v":0},{"g":15,"d":4.61,"v":-0.045},{"g":15,"d":4.738,"v":-0.065},{"g":15,"d":4.85,"v":-0.09},{"g":15,"d":4.862,"v":0},
{"g":16,"d":4.87,"v":0},{"g":16,"d":4.88,"v":-0.082},{"g":16,"d":4.991,"v":-0.117},{"g":16,"d":5.09,"v":-0.163},{"g":16,"d":5.102,"v":0},
{"g":17,"d":5.11,"v":0},{"g":17,"d":5.12,"v":-0.063},{"g":17,"d":5.209,"v":-0.09},{"g":17,"d":5.29,"v":-0.125},{"g":17,"d":5.302,"v":0},
{"g":18,"d":5.31,"v":0},{"g":18,"d":5.32,"v":-0.059},{"g":18,"d":5.437,"v":-0.084},{"g":18,"d":5.54,"v":-0.117},{"g":18,"d":5.552,"v":0},
{"g":19,"d":5.56,"v":0},{"g":19,"d":5.57,"v":-0.05},{"g":19,"d":5.692,"v":-0.072},{"g":19,"d":5.8,"v":-0.1},{"g":19,"d":5.812,"v":0},
{"g":20,"d":5.82,"v":0},{"g":20,"d":5.83,"v":-0.063},{"g":20,"d":5.941,"v":-0.09},{"g":20,"d":6.04,"v":-0.125},{"g":20,"d":6.052,"v":0},
{"g":21,"d":6.05,"v":0},{"g":21,"d":6.06,"v":-0.042},{"g":21,"d":6.127,"v":-0.06},{"g":21,"d":6.19,"v":-0.083},{"g":21,"d":6.202,"v":0},
{"g":22,"d":6.22,"v":0},{"g":22,"d":6.23,"v":-0.045},{"g":22,"d":6.33,"v":-0.065},{"g":22,"d":6.42,"v":-0.09},{"g":22,"d":6.432,"v":0},
{"g":23,"d":6.44,"v":0},{"g":23,"d":6.45,"v":-0.088},{"g":23,"d":6.55,"v":-0.126},{"g":23,"d":6.64,"v":-0.175},{"g":23,"d":6.652,"v":0},
{"g":24,"d":6.68,"v":0},{"g":24,"d":6.69,"v":-0.04},{"g":24,"d":6.79,"v":-0.058},{"g":24,"d":6.88,"v":-0.08},{"g":24,"d":6.892,"v":0},
{"g":25,"d":6.895,"v":0},{"g":25,"d":6.905,"v":-0.078},{"g":25,"d":7.016,"v":-0.112},{"g":25,"d":7.115,"v":-0.155},{"g":25,"d":7.127,"v":0},
{"g":26,"d":7.13,"v":0},{"g":26,"d":7.14,"v":-0.042},{"g":26,"d":7.218,"v":-0.06},{"g":26,"d":7.29,"v":-0.083},{"g":26,"d":7.302,"v":0},
{"g":31,"d":1.315,"v":0},{"g":31,"d":1.3,"v":0.083},{"g":31,"d":1.345,"v":0.037},{"g":31,"d":1.39,"v":0},
{"g":32,"d":1.565,"v":0},{"g":32,"d":1.55,"v":0.078},{"g":32,"d":1.595,"v":0.035},{"g":32,"d":1.64,"v":0},
{"g":33,"d":1.895,"v":0},{"g":33,"d":1.88,"v":0.05},{"g":33,"d":1.925,"v":0.023},{"g":33,"d":1.97,"v":0},
{"g":34,"d":2.065,"v":0},{"g":34,"d":2.05,"v":0.088},{"g":34,"d":2.095,"v":0.04},{"g":34,"d":2.14,"v":0},
{"g":35,"d":2.365,"v":0},{"g":35,"d":2.35,"v":0.067},{"g":35,"d":2.395,"v":0.03},{"g":35,"d":2.44,"v":0},
{"g":36,"d":2.57,"v":0},{"g":36,"d":2.555,"v":0.088},{"g":36,"d":2.6,"v":0.04},{"g":36,"d":2.645,"v":0},
{"g":37,"d":2.83,"v":0},{"g":37,"d":2.815,"v":0.075},{"g":37,"d":2.86,"v":0.034},{"g":37,"d":2.905,"v":0},
{"g":38,"d":3.045,"v":0},{"g":38,"d":3.03,"v":0.067},{"g":38,"d":3.075,"v":0.03},{"g":38,"d":3.12,"v":0},
{"g":39,"d":3.58,"v":0},{"g":39,"d":3.565,"v":0.088},{"g":39,"d":3.61,"v":0.04},{"g":39,"d":3.655,"v":0},
{"g":40,"d":3.795,"v":0},{"g":40,"d":3.78,"v":0.042},{"g":40,"d":3.825,"v":0.019},{"g":40,"d":3.87,"v":0},
{"g":41,"d":4.095,"v":0},{"g":41,"d":4.08,"v":0.1},{"g":41,"d":4.125,"v":0.045},{"g":41,"d":4.17,"v":0},
{"g":42,"d":4.595,"v":0},{"g":42,"d":4.58,"v":0.092},{"g":42,"d":4.625,"v":0.041},{"g":42,"d":4.67,"v":0},
{"g":43,"d":5.03,"v":0},{"g":43,"d":5.015,"v":0.025},{"g":43,"d":5.06,"v":0.011},{"g":43,"d":5.105,"v":0},
{"g":44,"d":5.13,"v":0},{"g":44,"d":5.115,"v":0.075},{"g":44,"d":5.16,"v":0.034},{"g":44,"d":5.205,"v":0},
{"g":45,"d":5.405,"v":0},{"g":45,"d":5.39,"v":0.075},{"g":45,"d":5.435,"v":0.034},{"g":45,"d":5.48,"v":0},
{"g":46,"d":5.63,"v":0},{"g":46,"d":5.615,"v":0.092},{"g":46,"d":5.66,"v":0.041},{"g":46,"d":5.705,"v":0},
{"g":47,"d":5.905,"v":0},{"g":47,"d":5.89,"v":0.075},{"g":47,"d":5.935,"v":0.034},{"g":47,"d":5.98,"v":0},
{"g":48,"d":6.18,"v":0},{"g":48,"d":6.165,"v":0.07},{"g":48,"d":6.21,"v":0.032},{"g":48,"d":6.255,"v":0},
{"g":49,"d":6.48,"v":0},{"g":49,"d":6.465,"v":0.042},{"g":49,"d":6.51,"v":0.019},{"g":49,"d":6.555,"v":0},
{"g":50,"d":6.755,"v":0},{"g":50,"d":6.74,"v":0.038},{"g":50,"d":6.785,"v":0.017},{"g":50,"d":6.83,"v":0},
{"g":51,"d":7.005,"v":0},{"g":51,"d":6.99,"v":0.045},{"g":51,"d":7.035,"v":0.02},{"g":51,"d":7.08,"v":0},
{"g":52,"d":7.23,"v":0},{"g":52,"d":7.215,"v":0.058},{"g":52,"d":7.26,"v":0.026},{"g":52,"d":7.305,"v":0}],
"v2":[
{"g":1,"d":1.6,"v":0},{"g":1,"d":1.7,"v":-0.012},{"g":1,"d":1.8,"v":-0.04},{"g":1,"d":1.904,"v":-0.05},{"g":1,"d":2.0,"v":-0.04},{"g":1,"d":2.078,"v":-0.025},{"g":1,"d":2.12,"v":-0.005},{"g":1,"d":2.13,"v":0},
{"g":2,"d":2.14,"v":0},{"g":2,"d":2.166,"v":0.04},{"g":2,"d":2.185,"v":0.02},{"g":2,"d":2.2,"v":0.005},{"g":2,"d":2.238,"v":0}]
},
"columns":2,
"spacing":{"row":24,"column":12},
"bounds":"flush",
"concat":[
  {"width":498,"height":130,
   "title":{"text":"Low SAV biomass (June)","dx":5},
   "encoding":{
    "x":{"field":"d","type":"quantitative","scale":{"domain":[1,7.52],"nice":false,"zero":false},"axis":{"values":[1,2,3,4,5,6,7],"labels":false,"title":null}},
    "y":{"field":"v","type":"quantitative","scale":{"domain":[-70,2370],"nice":false,"zero":false},"axis":{"values":[0,1000,2000],"format":"d","title":["Discharge","(m³ s⁻¹)"],"titleLineHeight":29}}},
   "layer":[
    {"data":{"name":"q1"},"mark":{"type":"line","color":"#000","strokeWidth":2.2,"clip":true}},
    {"data":{"values":[{"d":1.13,"v":1938,"t":"River discharge"}]},"mark":{"type":"text"},"encoding":{"text":{"field":"t"}}}
   ]},
  {"width":498,"height":130,
   "title":{"text":"High SAV biomass (August)","dx":1},
   "data":{"name":"q2"},
   "mark":{"type":"line","color":"#000","strokeWidth":2.2,"clip":true},
   "encoding":{
    "x":{"field":"d","type":"quantitative","scale":{"domain":[1.42,5.74],"nice":false,"zero":false},"axis":{"values":[2,3,4,5],"labels":false,"title":null}},
    "y":{"field":"v","type":"quantitative","scale":{"domain":[-70,2370],"nice":false,"zero":false},"axis":{"values":[0,1000,2000],"labels":false,"title":null}}}},
  {"width":498,"height":130,
   "encoding":{
    "x":{"field":"d","type":"quantitative","scale":{"domain":[1,7.52],"nice":false,"zero":false},"axis":{"values":[1,2,3,4,5,6,7],"labels":false,"title":null}},
    "y":{"field":"v","type":"quantitative","scale":{"domain":[-1.27,1.29],"nice":false,"zero":false},"axis":{"values":[-1,0,1],"format":"~g","title":"MLLW (m)","titlePadding":45}}},
   "layer":[
    {"data":{"name":"t1"},"mark":{"type":"line","color":"#000","strokeWidth":1.9,"interpolate":"monotone","clip":true}},
    {"data":{"values":[{"d":1.13,"v":0.837,"t":"Tide at up-bay site"}]},"mark":{"type":"text"},"encoding":{"text":{"field":"t"}}}
   ]},
  {"width":498,"height":130,
   "data":{"name":"t2"},
   "mark":{"type":"line","color":"#000","strokeWidth":1.9,"interpolate":"monotone","clip":true},
   "encoding":{
    "x":{"field":"d","type":"quantitative","scale":{"domain":[1.42,5.74],"nice":false,"zero":false},"axis":{"values":[2,3,4,5],"labels":false,"title":null}},
    "y":{"field":"v","type":"quantitative","scale":{"domain":[-1.27,1.29],"nice":false,"zero":false},"axis":{"values":[-1,0,1],"labels":false,"title":null}}}},
  {"width":498,"height":130,
   "encoding":{
    "x":{"field":"e","type":"quantitative","scale":{"domain":[1,7.52],"nice":false,"zero":false},"axis":{"values":[1,2,3,4,5,6,7],"labels":false,"title":null}},
    "y":{"field":"v","type":"quantitative","scale":{"domain":[-0.336,0.338],"nice":false,"zero":false},"axis":{"values":[-0.3,0,0.3],"format":"~g","title":["Velocity","(m s⁻¹)"],"titleLineHeight":29}}},
   "layer":[
    {"data":{"name":"c1"},"mark":{"type":"rule","color":"#6a6a6a","strokeWidth":1,"clip":true},"encoding":{"x2":{"field":"d"},"y2":{"datum":0}}},
    {"data":{"values":[{"e":1.13,"v":0.219,"t":"CBIBS"}]},"mark":{"type":"text"},"encoding":{"text":{"field":"t"}}}
   ]},
  {"width":498,"height":130,
   "data":{"name":"c2"},
   "mark":{"type":"rule","color":"#6a6a6a","strokeWidth":1,"clip":true},
   "encoding":{
    "x":{"field":"e","type":"quantitative","scale":{"domain":[1.42,5.74],"nice":false,"zero":false},"axis":{"values":[2,3,4,5],"labels":false,"title":null}},
    "x2":{"field":"d"},
    "y":{"field":"v","type":"quantitative","scale":{"domain":[-0.336,0.338],"nice":false,"zero":false},"axis":{"values":[-0.3,0,0.3],"labels":false,"title":null}},
    "y2":{"datum":0}}},
  {"width":498,"height":130,
   "encoding":{
    "x":{"field":"d","type":"quantitative","scale":{"domain":[1,7.52],"nice":false,"zero":false},"axis":{"values":[1,2,3,4,5,6,7],"labels":false,"title":null}},
    "y":{"field":"v","type":"quantitative","scale":{"domain":[-0.76,0.765],"nice":false,"zero":false},"axis":{"values":[-0.7,0,0.7],"format":"~g","title":["Velocity","(m s⁻¹)"],"titleLineHeight":29}}},
   "layer":[
    {"data":{"values":[{"d":1.215,"e":7.27,"v":0}]},"mark":{"type":"rule","color":"#000","strokeWidth":2},"encoding":{"x2":{"field":"e"}}},
    {"data":{"name":"a1"},"mark":{"type":"line","fill":"#000","stroke":"#000","strokeWidth":0.8,"clip":true},"encoding":{"detail":{"field":"g","type":"nominal"},"order":{"value":null}}},
    {"data":{"name":"a1g"},"mark":{"type":"line","fill":"#6e6e6e","stroke":"#555","strokeWidth":0.8,"clip":true},"encoding":{"detail":{"field":"g","type":"nominal"},"order":{"value":null}}},
    {"data":{"values":[{"d":1.13,"v":0.495,"t":"ADCP (main channel)"}]},"mark":{"type":"text"},"encoding":{"text":{"field":"t"}}}
   ]},
  {"width":498,"height":130,
   "encoding":{
    "x":{"field":"d","type":"quantitative","scale":{"domain":[1.42,5.74],"nice":false,"zero":false},"axis":{"values":[2,3,4,5],"labels":false,"title":null}},
    "y":{"field":"v","type":"quantitative","scale":{"domain":[-0.76,0.765],"nice":false,"zero":false},"axis":{"values":[-0.7,0,0.7],"labels":false,"title":null}}},
   "layer":[
    {"data":{"values":[{"d":1.584,"e":5.625,"v":0}]},"mark":{"type":"rule","color":"#8c8c8c","strokeWidth":1.5},"encoding":{"x2":{"field":"e"}}},
    {"data":{"name":"a2l"},"mark":{"type":"line","fill":"#8c8c8c","stroke":"#7a7a7a","strokeWidth":0.8,"clip":true},"encoding":{"detail":{"field":"g","type":"nominal"},"order":{"value":null}}},
    {"data":{"name":"a2d"},"mark":{"type":"line","fill":"#3c3c3c","stroke":"#3c3c3c","strokeWidth":0.8,"clip":true},"encoding":{"detail":{"field":"g","type":"nominal"},"order":{"value":null}}}
   ]},
  {"width":498,"height":130,
   "encoding":{
    "x":{"field":"d","type":"quantitative","scale":{"domain":[1,7.52],"nice":false,"zero":false},"axis":{"values":[1,2,3,4,5,6,7],"format":"d","title":"Day of deployment","titlePadding":34}},
    "y":{"field":"v","type":"quantitative","scale":{"domain":[-0.33,0.33],"nice":false,"zero":false},"axis":{"values":[-0.3,0,0.3],"format":"~g","title":["Velocity","(m s⁻¹)"],"titleLineHeight":29}}},
   "layer":[
    {"data":{"name":"v1"},"mark":{"type":"line","fill":"#000","stroke":"#000","strokeWidth":0.8,"clip":true},"encoding":{"detail":{"field":"g","type":"nominal"},"order":{"value":null}}},
    {"data":{"values":[{"d":1.3,"e":7.3,"v":0}]},"mark":{"type":"rule","color":"#000","strokeWidth":2},"encoding":{"x2":{"field":"e"}}},
    {"data":{"values":[{"d":1.13,"v":0.213,"t":"ADV (SAV bed “cut”)"}]},"mark":{"type":"text"},"encoding":{"text":{"field":"t"}}}
   ]},
  {"width":498,"height":130,
   "encoding":{
    "x":{"field":"d","type":"quantitative","scale":{"domain":[1.42,5.74],"nice":false,"zero":false},"axis":{"values":[2,3,4,5],"format":"d","title":"Day of deployment","titlePadding":16}},
    "y":{"field":"v","type":"quantitative","scale":{"domain":[-0.33,0.33],"nice":false,"zero":false},"axis":{"values":[-0.3,0,0.3],"labels":false,"title":null}}},
   "layer":[
    {"data":{"name":"v2"},"mark":{"type":"line","fill":"#8c8c8c","stroke":"#8c8c8c","strokeWidth":0.8,"clip":true},"encoding":{"detail":{"field":"g","type":"nominal"},"order":{"value":null}}},
    {"data":{"values":[{"d":1.57,"e":2.24,"v":0}]},"mark":{"type":"rule","color":"#8c8c8c","strokeWidth":1.2},"encoding":{"x2":{"field":"e"}}}
   ]}
]
}
